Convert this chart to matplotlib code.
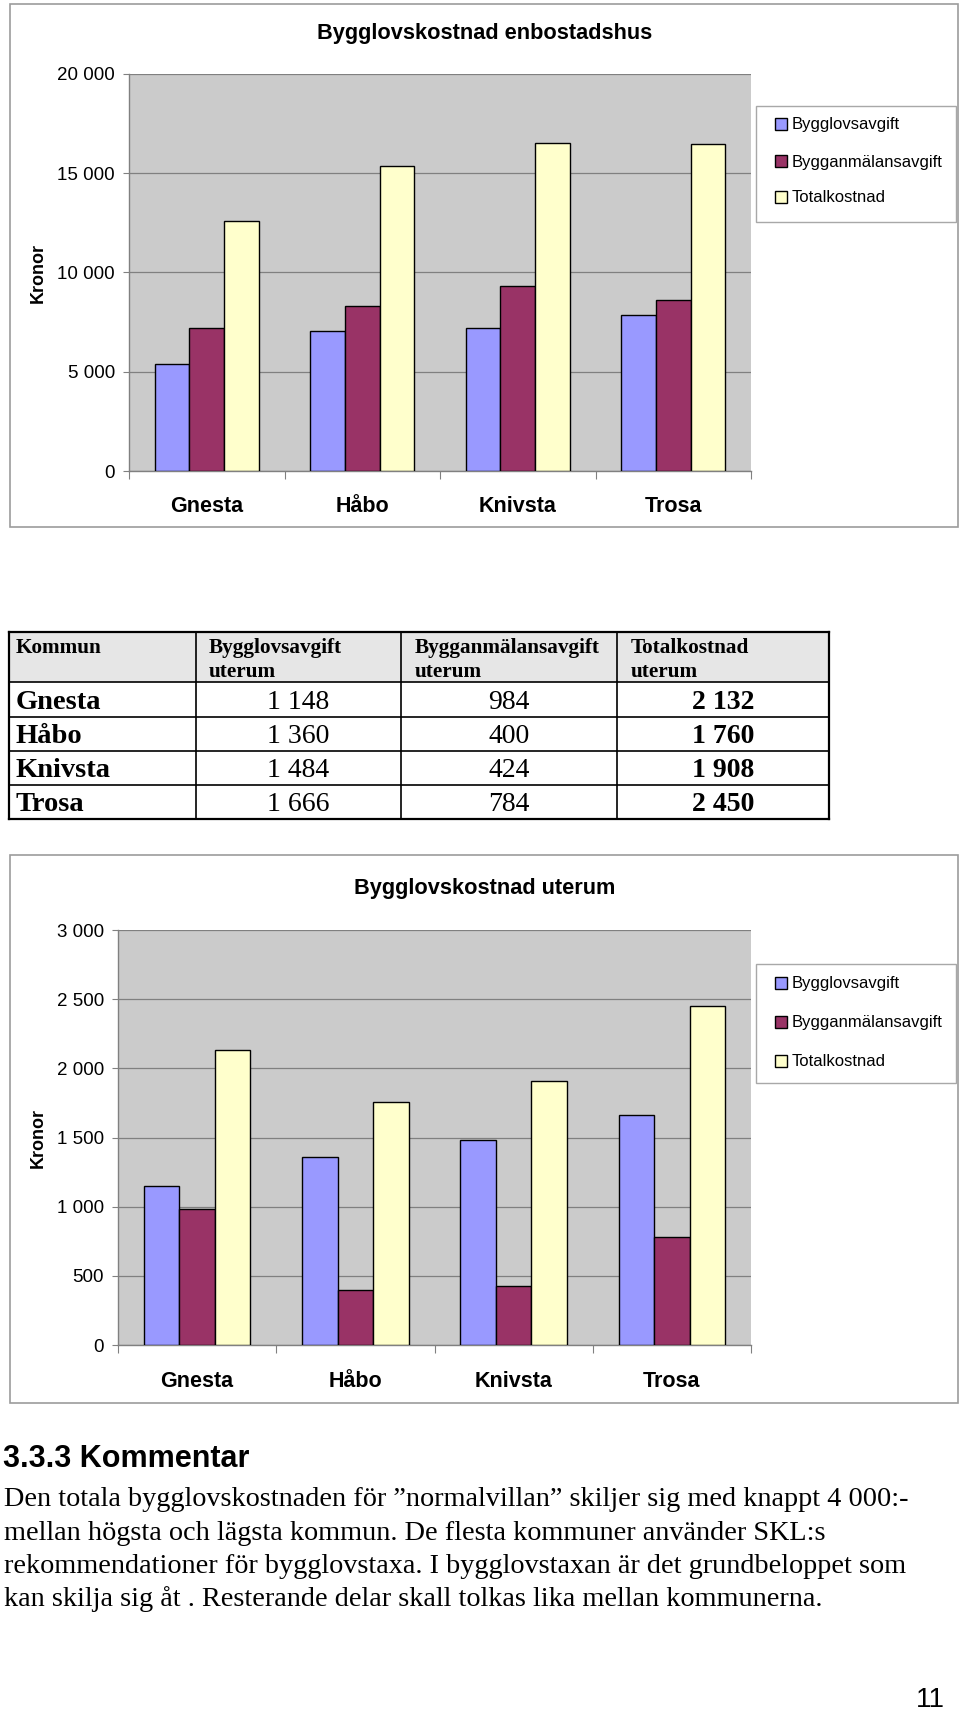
import numpy as np
import matplotlib
matplotlib.use("Agg")
import matplotlib.pyplot as plt
from matplotlib.patches import Rectangle
from matplotlib.ticker import FuncFormatter, NullFormatter

SANS = ["Liberation Sans", "DejaVu Sans"]
SERIF = ["Liberation Serif", "DejaVu Serif"]

# ---------------- data ----------------
kommuner = ["Gnesta", "Håbo", "Knivsta", "Trosa"]
serier = ["Bygglovsavgift", "Bygganmälansavgift", "Totalkostnad"]
farger = ["#9999FF", "#993366", "#FFFFCC"]

# Bygglovskostnad enbostadshus
enb_bygglov = [5370, 7060, 7200, 7860]
enb_anmalan = [7200, 8320, 9330, 8600]
enb_total = [12570, 15380, 16530, 16460]

# Bygglovskostnad uterum (from table)
ute_bygglov = [1148, 1360, 1484, 1666]
ute_anmalan = [984, 400, 424, 784]
ute_total = [2132, 1760, 1908, 2450]

tabell_rubriker = ["Kommun", "Bygglovsavgift\nuterum",
                   "Bygganmälansavgift\nuterum", "Totalkostnad\nuterum"]

rubrik = "3.3.3 Kommentar"
brodtext = [
    "Den totala bygglovskostnaden för \u201dnormalvillan\u201d skiljer sig med knappt 4 000:-",
    "mellan högsta och lägsta kommun. De flesta kommuner använder SKL:s",
    "rekommendationer för bygglovstaxa. I bygglovstaxan är det grundbeloppet som",
    "kan skilja sig åt . Resterande delar skall tolkas lika mellan kommunerna.",
]
sidnummer = "11"

# ---------------- figure ----------------
W, H = 960, 1710
fig = plt.figure(figsize=(W / 100, H / 100), dpi=100)
page = fig.add_axes([0, 0, 1, 1])
page.set_xlim(0, W)
page.set_ylim(H, 0)
page.axis("off")


def rect(x0, y0, x1, y1):
    return [x0 / W, 1 - y1 / H, (x1 - x0) / W, (y1 - y0) / H]


def fmt(v, p=None):
    return f"{int(round(v)):,}".replace(",", " ")


def chart(box, plot, title, title_y, kronor_y, leg_box, leg_ys, series, ymax, ystep, xpad):
    page.add_patch(Rectangle((box[0], box[1]), box[2] - box[0], box[3] - box[1],
                             fill=False, ec="#9c9c9c", lw=1.2))
    ax = fig.add_axes(rect(*plot))
    x = np.arange(len(kommuner))
    w = 0.224
    for i, (vals, c) in enumerate(zip(series, farger)):
        ax.bar(x + (i - 1) * w, vals, width=w, color=c, edgecolor="black",
               linewidth=1.0, zorder=3)
    ax.set_facecolor("#CBCBCB")
    ax.set_xlim(-0.5, len(kommuner) - 0.5)
    ax.set_ylim(0, ymax)
    ax.set_yticks(np.arange(0, ymax + 1, ystep))
    ax.yaxis.set_major_formatter(FuncFormatter(fmt))
    ax.tick_params(axis="y", length=4.5, width=0.8, color="#808080", pad=5.5,
                   labelsize=13.5)
    for lab in ax.get_yticklabels():
        lab.set_family(SANS)
    ax.grid(axis="y", color="#808080", lw=0.9, zorder=1)
    ax.set_axisbelow(True)
    ax.set_xticks(np.arange(-0.5, len(kommuner), 1))
    ax.xaxis.set_major_formatter(NullFormatter())
    ax.set_xticks(x, minor=True)
    ax.set_xticklabels(kommuner, minor=True, fontweight="bold", fontsize=15.5,
                       family=SANS)
    ax.tick_params(axis="x", which="major", length=6, width=0.8, color="#808080")
    ax.tick_params(axis="x", which="minor", length=0, pad=xpad)
    for s in ["top", "right"]:
        ax.spines[s].set_visible(False)
    for s in ["left", "bottom"]:
        ax.spines[s].set_color("#808080")
        ax.spines[s].set_linewidth(1.0)

    page.text(485, title_y, title, ha="center", va="center", fontsize=15.7,
              fontweight="bold", family=SANS)
    page.text(38, kronor_y, "Kronor", rotation=90, ha="center", va="center",
              fontsize=13, fontweight="bold", family=SANS)

    # legend
    page.add_patch(Rectangle((leg_box[0], leg_box[1]), leg_box[2] - leg_box[0],
                             leg_box[3] - leg_box[1], fill=False, ec="#a8a8a8", lw=1.0))
    for name, c, yy in zip(serier, farger, leg_ys):
        page.add_patch(Rectangle((775, yy - 6.5), 12, 12, fc=c, ec="black", lw=1.0))
        page.text(792, yy, name, ha="left", va="center", fontsize=12, family=SANS)
    return ax


chart((10, 4, 958, 527), (129, 74, 751, 471), "Bygglovskostnad enbostadshus", 33, 273,
      (756, 106, 956, 222), (125, 162, 198),
      [enb_bygglov, enb_anmalan, enb_total], 20000, 5000, 18)

chart((10, 855, 958, 1403), (118, 930, 751, 1345), "Bygglovskostnad uterum", 888, 1138,
      (756, 964, 956, 1083), (983, 1022, 1061),
      [ute_bygglov, ute_anmalan, ute_total], 3000, 500, 19)

# ---------------- table ----------------
col_x = [9, 196, 401, 617, 829]
row_y = [632, 682, 717, 751, 785, 819]
page.add_patch(Rectangle((col_x[0], row_y[0]), col_x[-1] - col_x[0], row_y[1] - row_y[0],
                         fc="#E6E6E6", ec="none", zorder=1))
for yy in row_y:
    lw = 1.6 if yy in (row_y[0], row_y[-1]) else 1.2
    page.plot([col_x[0], col_x[-1]], [yy, yy], color="black", lw=lw, zorder=2)
for xx in col_x:
    lw = 1.6 if xx in (col_x[0], col_x[-1]) else 1.2
    page.plot([xx, xx], [row_y[0], row_y[-1]], color="black", lw=lw, zorder=2)

hdr_x = [16, 209, 415, 631]
for hx, txt in zip(hdr_x, tabell_rubriker):
    lines = txt.split("\n")
    page.text(hx, 653, lines[0], ha="left", va="baseline", fontsize=15.3,
              fontweight="bold", family=SERIF, zorder=3)
    if len(lines) > 1:
        page.text(hx, 677, lines[1], ha="left", va="baseline", fontsize=15.3,
                  fontweight="bold", family=SERIF, zorder=3)

base_y = [709, 743, 777, 811]
for i, k in enumerate(kommuner):
    by = base_y[i]
    page.text(16, by, k, ha="left", va="baseline", fontsize=20.5,
              fontweight="bold", family=SERIF, zorder=3)
    vals = [ute_bygglov[i], ute_anmalan[i], ute_total[i]]
    for j, v in enumerate(vals):
        cx = (col_x[j + 1] + col_x[j + 2]) / 2
        page.text(cx, by, fmt(v), ha="center", va="baseline", fontsize=20,
                  fontweight="bold" if j == 2 else "normal", family=SERIF, zorder=3)

# ---------------- text ----------------
page.text(3, 1467, rubrik, ha="left", va="baseline", fontsize=22,
          fontweight="bold", family=SANS)
for yy, line in zip([1506, 1540, 1573, 1606], brodtext):
    page.text(4, yy, line, ha="left", va="baseline", fontsize=20.3, family=SERIF)
page.text(945, 1707, sidnummer, ha="right", va="baseline", fontsize=20, family=SANS)

fig.savefig("out.png", dpi=100)
